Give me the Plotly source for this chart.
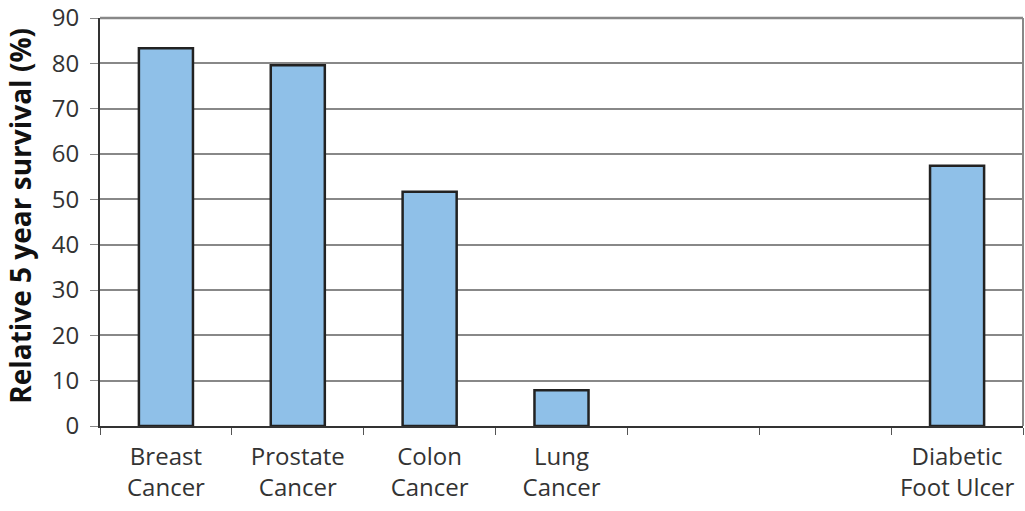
import plotly.graph_objects as go

categories = ["Breast<br>Cancer", "Prostate<br>Cancer", "Colon<br>Cancer", "Lung<br>Cancer", " ", "  ", "Diabetic<br>Foot Ulcer"]
survival = [83.3, 79.6, 51.7, 7.9, None, None, 57.4]
y_ticks = [0, 10, 20, 30, 40, 50, 60, 70, 80, 90]

fig = go.Figure()
fig.add_trace(go.Bar(
    x=categories, y=survival,
    marker=dict(color="#8fc0e8", line=dict(color="#222222", width=2.5)),
    width=0.41,
    hoverinfo="skip",
))

font_family = "Open Sans, Noto Sans, DejaVu Sans, sans-serif"
fig.update_layout(
    width=1025, height=511,
    margin=dict(l=100, r=2, t=18, b=85),
    paper_bgcolor="white", plot_bgcolor="white",
    showlegend=False,
    font=dict(family=font_family, color="#333333", size=24),
    xaxis=dict(
        type="category", categoryorder="array", categoryarray=categories,
        range=[-0.5, 6.5], automargin=False,
        tickson="boundaries", ticks="outside", ticklen=7, tickcolor="#555555", tickwidth=1,
        ticklabelstandoff=8,
        showline=True, linecolor="#333333", linewidth=2,
        showgrid=False,
        tickfont=dict(size=24, color="#333333"),
    ),
    yaxis=dict(
        range=[0, 90], tickvals=y_ticks, automargin=False,
        ticks="outside", ticklen=8, tickcolor="#888888", tickwidth=1,
        ticklabelstandoff=6, ticklabeloverflow="allow",
        showline=True, linecolor="#333333", linewidth=2,
        showgrid=True, gridcolor="#888888", gridwidth=1.5,
        zeroline=False,
        tickfont=dict(size=24, color="#333333"),
    ),
)
fig.add_annotation(
    text="<b>Relative 5 year survival (%)</b>", textangle=-90,
    xref="paper", yref="paper", x=-0.0867, y=0.515,
    xanchor="center", yanchor="middle", showarrow=False,
    font=dict(size=28, color="#111111", family=font_family),
)
fig.add_shape(type="line", xref="paper", yref="paper", x0=1, x1=1, y0=0, y1=1,
              line=dict(color="#888888", width=2))
fig.add_shape(type="line", xref="paper", yref="paper", x0=0, x1=1, y0=1, y1=1,
              line=dict(color="#888888", width=2.5))

fig.write_html("out.html", config={"displayModeBar": False},
               post_script="document.body.style.margin='0';")
